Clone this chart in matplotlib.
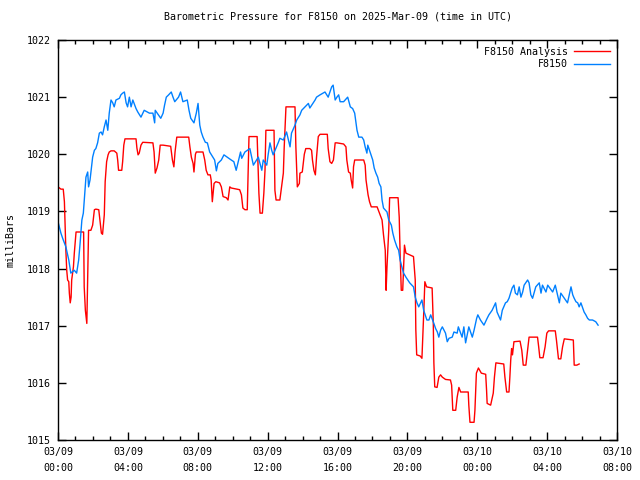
import numpy as np
import pandas as pd
import matplotlib
matplotlib.use("Agg")
import matplotlib.pyplot as plt
import matplotlib.dates as mdates

# data: minutes after 2025-03-09 00:00 UTC, pressure in mbar
obs_min = [0, 10, 16, 27, 37, 44, 56, 64, 71, 76, 82, 87, 92, 96, 102, 105, 110, 119, 125, 130,
           136, 142, 148, 153, 159, 165, 171, 176, 182, 188, 193, 199, 211, 216, 222, 228, 234, 239,
           245, 251, 257, 268, 274, 285, 296, 314, 326, 332, 334, 353, 361, 366, 372, 380, 389, 395,
           401, 414, 421, 429, 444, 450, 456, 467, 475, 481, 487, 492, 498, 506, 513, 521, 532, 538,
           544, 549, 561, 570, 595, 604, 612, 627, 631, 642, 659, 671, 688, 700, 705, 717, 722, 728,
           734, 739, 757, 762, 774, 785, 797, 802, 814, 820, 831, 837, 854, 860, 865, 883, 888, 900,
           917, 928, 940, 945, 952, 958, 964, 969, 981, 995, 1004, 1012, 1019, 1023, 1027, 1033,
           1044, 1050, 1055, 1061, 1064, 1070, 1081, 1086, 1092, 1098, 1103, 1109, 1113, 1118, 1130,
           1136, 1145, 1150, 1156, 1164, 1170, 1175, 1181, 1187, 1195, 1208, 1221, 1227, 1233, 1239,
           1250, 1256, 1267, 1274, 1280, 1291, 1297, 1303, 1308, 1314, 1320, 1331, 1337, 1343, 1354,
           1360, 1371, 1375, 1388, 1394, 1400, 1411, 1423, 1429, 1438, 1442, 1451, 1463, 1474, 1480,
           1491, 1503, 1508, 1520, 1526, 1537, 1543, 1549, 1560, 1566, 1571, 1578, 1584, 1590, 1596,
           1601, 1613, 1618, 1624, 1630, 1641, 1653, 1659, 1664, 1676, 1682, 1699, 1708, 1722, 1727,
           1739, 1750, 1762, 1768, 1773, 1779, 1785, 1790, 1796, 1802, 1807, 1813, 1819, 1825, 1836,
           1847, 1855]
obs_mb = [1018.82, 1018.62, 1018.53, 1018.38, 1018.15, 1017.92, 1017.97, 1017.92, 1018.15, 1018.45,
          1018.85, 1018.97, 1019.32, 1019.60, 1019.69, 1019.43, 1019.55, 1019.95, 1020.07, 1020.10,
          1020.20, 1020.37, 1020.39, 1020.34, 1020.48, 1020.60, 1020.42, 1020.72, 1020.95, 1020.90,
          1020.83, 1020.95, 1020.98, 1021.04, 1021.07, 1021.09, 1020.90, 1020.83, 1021.00, 1020.83,
          1020.95, 1020.80, 1020.74, 1020.65, 1020.77, 1020.72, 1020.72, 1020.55, 1020.77, 1020.63,
          1020.72, 1020.86, 1021.00, 1021.04, 1021.09, 1021.00, 1020.92, 1021.00, 1021.09, 1020.92,
          1020.95, 1020.77, 1020.63, 1020.55, 1020.72, 1020.89, 1020.51, 1020.39, 1020.30, 1020.21,
          1020.20, 1020.04, 1019.95, 1019.90, 1019.71, 1019.84, 1019.90, 1019.99, 1019.90, 1019.87,
          1019.72, 1020.04, 1019.93, 1020.04, 1020.10, 1019.81, 1019.95, 1019.72, 1019.90, 1019.81,
          1020.00, 1020.20, 1020.07, 1019.99, 1020.21, 1020.28, 1020.25, 1020.39, 1020.13, 1020.37,
          1020.51, 1020.60, 1020.69, 1020.77, 1020.86, 1020.89, 1020.81, 1020.95, 1021.00, 1021.04,
          1021.09, 1021.00, 1021.18, 1021.21, 1020.95, 1021.00, 1021.04, 1020.92, 1020.92, 1021.00,
          1020.83, 1020.80, 1020.72, 1020.57, 1020.42, 1020.30, 1020.30, 1020.25, 1020.13, 1020.02,
          1020.16, 1020.07, 1019.90, 1019.76, 1019.67, 1019.60, 1019.49, 1019.43, 1019.20, 1019.06,
          1018.99, 1018.85, 1018.76, 1018.62, 1018.50, 1018.38, 1018.32, 1018.15, 1018.03, 1017.92,
          1017.85, 1017.75, 1017.68, 1017.50, 1017.40, 1017.33, 1017.45, 1017.27, 1017.10, 1017.10,
          1017.19, 1017.04, 1016.95, 1016.89, 1016.80, 1016.92, 1016.98, 1016.87, 1016.72, 1016.78,
          1016.80, 1016.89, 1016.87, 1016.98, 1016.80, 1016.98, 1016.70, 1016.98, 1016.80, 1016.92,
          1017.13, 1017.19, 1017.10, 1017.01, 1017.13, 1017.19, 1017.27, 1017.40, 1017.24, 1017.10,
          1017.27, 1017.40, 1017.42, 1017.48, 1017.66, 1017.71, 1017.57, 1017.54, 1017.68, 1017.50,
          1017.59, 1017.71, 1017.80, 1017.75, 1017.54, 1017.48, 1017.68, 1017.75, 1017.57, 1017.71,
          1017.59, 1017.71, 1017.59, 1017.71, 1017.40, 1017.57, 1017.48, 1017.40, 1017.68, 1017.54,
          1017.48, 1017.42, 1017.40, 1017.33, 1017.40, 1017.31, 1017.24, 1017.19, 1017.13, 1017.10,
          1017.10, 1017.07, 1017.01]

ana_min = [0, 10, 18, 22, 27, 30, 33, 37, 39, 42, 45, 47, 53, 56, 62, 88, 90, 94, 99, 102, 105,
           113, 119, 125, 130, 140, 144, 149, 153, 159, 162, 167, 172, 176, 182, 193, 202, 205, 208,
           219, 222, 226, 230, 268, 271, 275, 279, 285, 291, 326, 330, 334, 340, 346, 351, 361, 387,
           393, 398, 402, 408, 449, 453, 458, 464, 467, 472, 475, 498, 504, 509, 515, 523, 526, 530,
           536, 542, 555, 561, 567, 578, 584, 590, 595, 624, 630, 635, 642, 650, 656, 684, 690, 694,
           702, 707, 711, 714, 742, 745, 749, 762, 768, 774, 777, 781, 783, 814, 817, 822, 829, 831,
           839, 846, 851, 865, 871, 874, 879, 884, 888, 894, 900, 925, 928, 934, 940, 946, 952, 958,
           981, 989, 992, 998, 1004, 1007, 1012, 1015, 1019, 1050, 1055, 1058, 1065, 1070, 1076,
           1096, 1113, 1118, 1124, 1127, 1130, 1136, 1139, 1168, 1172, 1175, 1179, 1184, 1187, 1190,
           1195, 1221, 1227, 1229, 1232, 1244, 1250, 1253, 1257, 1260, 1266, 1285, 1289, 1291, 1294,
           1302, 1308, 1314, 1320, 1331, 1348, 1352, 1356, 1366, 1371, 1377, 1383, 1409, 1411, 1415,
           1429, 1432, 1437, 1444, 1454, 1469, 1472, 1474, 1486, 1495, 1499, 1504, 1531, 1535, 1541,
           1549, 1552, 1555, 1558, 1561, 1566, 1587, 1593, 1598, 1607, 1613, 1618, 1647, 1651, 1655,
           1666, 1673, 1679, 1685, 1708, 1712, 1716, 1719, 1727, 1733, 1739, 1770, 1773, 1782, 1790]
ana_mb = [1019.43, 1019.39, 1019.39, 1019.17, 1018.32, 1017.97, 1017.80, 1017.77, 1017.57, 1017.40,
          1017.50, 1017.80, 1018.03, 1018.27, 1018.64, 1018.64, 1017.68, 1017.27, 1017.04, 1017.85,
          1018.67, 1018.67, 1018.76, 1019.03, 1019.04, 1019.03, 1018.85, 1018.62, 1018.60, 1018.94,
          1019.52, 1019.87, 1019.99, 1020.04, 1020.06, 1020.06, 1020.02, 1019.90, 1019.72, 1019.72,
          1019.87, 1020.16, 1020.27, 1020.27, 1020.11, 1019.99, 1020.02, 1020.16, 1020.21, 1020.20,
          1020.04, 1019.67, 1019.76, 1019.90, 1020.16, 1020.16, 1020.14, 1019.90, 1019.78, 1020.04,
          1020.30, 1020.30, 1020.13, 1019.95, 1019.84, 1019.69, 1020.00, 1020.04, 1020.04, 1019.90,
          1019.72, 1019.64, 1019.64, 1019.55, 1019.17, 1019.49, 1019.52, 1019.50, 1019.43, 1019.26,
          1019.24, 1019.20, 1019.43, 1019.41, 1019.38, 1019.29, 1019.06, 1019.03, 1019.03, 1020.31,
          1020.31, 1019.32, 1018.97, 1018.97, 1019.32, 1019.72, 1020.42, 1020.42, 1019.37, 1019.20,
          1019.20, 1019.43, 1019.67, 1020.13, 1020.57, 1020.83, 1020.83, 1020.13, 1019.43, 1019.49,
          1019.67, 1019.69, 1020.00, 1020.10, 1020.10, 1020.07, 1019.90, 1019.72, 1019.64, 1019.95,
          1020.31, 1020.35, 1020.35, 1020.10, 1019.87, 1019.84, 1019.90, 1020.20, 1020.20, 1020.18,
          1020.13, 1019.90, 1019.69, 1019.67, 1019.55, 1019.41, 1019.78, 1019.90, 1019.90, 1019.81,
          1019.55, 1019.29, 1019.17, 1019.08, 1019.08, 1018.85, 1018.59, 1018.32, 1017.62, 1018.03,
          1018.67, 1019.24, 1019.24, 1018.90, 1018.27, 1017.62, 1017.62, 1018.03, 1018.41, 1018.27,
          1018.21, 1017.80, 1016.93, 1016.49, 1016.47, 1016.43, 1016.80, 1017.33, 1017.77, 1017.68,
          1017.66, 1017.04, 1016.35, 1015.93, 1015.92, 1016.10, 1016.14, 1016.10, 1016.06, 1016.05,
          1015.96, 1015.52, 1015.52, 1015.75, 1015.92, 1015.84, 1015.84, 1015.61, 1015.31, 1015.31,
          1015.52, 1016.17, 1016.26, 1016.17, 1016.15, 1015.87, 1015.64, 1015.61, 1015.82, 1016.10,
          1016.35, 1016.33, 1016.10, 1015.84, 1015.84, 1016.10, 1016.40, 1016.60, 1016.49, 1016.72,
          1016.73, 1016.57, 1016.31, 1016.31, 1016.57, 1016.80, 1016.80, 1016.63, 1016.44, 1016.44,
          1016.63, 1016.87, 1016.91, 1016.91, 1016.75, 1016.57, 1016.42, 1016.42, 1016.63, 1016.77,
          1016.75, 1016.31, 1016.31, 1016.33]

start = pd.Timestamp("2025-03-09 00:00")
end = pd.Timestamp("2025-03-10 08:00")
obs_t = start + pd.to_timedelta(obs_min, unit="m")
ana_t = start + pd.to_timedelta(ana_min, unit="m")

plt.rcParams["font.family"] = ["DejaVu Sans Mono"]
plt.rcParams["font.size"] = 7.2

fig = plt.figure(figsize=(6.4, 4.8), dpi=100)
ax = fig.add_axes([58 / 640, 40 / 480, 559 / 640, 400 / 480])

ax.plot(ana_t, ana_mb, color="#ff0000", lw=1.0, label="F8150 Analysis")
ax.plot(obs_t, obs_mb, color="#0080ff", lw=1.0, label="F8150")

ax.set_xlim(start, end)
ax.set_ylim(1015, 1022)
ax.set_yticks(np.arange(1015, 1023, 1))
ax.yaxis.set_major_formatter(plt.FormatStrFormatter("%d"))
ax.xaxis.set_major_locator(mdates.HourLocator(byhour=range(0, 24, 4)))
ax.xaxis.set_minor_locator(mdates.HourLocator())
ax.xaxis.set_major_formatter(mdates.DateFormatter("%m/%d\n%H:%M"))

ax.tick_params(which="both", direction="in", top=True, right=True, colors="black")
ax.tick_params(which="major", length=6, width=1, pad=5)
ax.tick_params(which="minor", length=3, width=1)
for s in ax.spines.values():
    s.set_linewidth(1)

ax.set_ylabel("milliBars", labelpad=8)
ax.set_title("Barometric Pressure for F8150 on 2025-Mar-09 (time in UTC)",
             fontsize=7.2, pad=15)

ax.legend(loc="upper right", frameon=False, markerfirst=False, handlelength=3.6,
          handletextpad=0.6, labelspacing=0.25, borderaxespad=0.3)

fig.canvas.draw()
plt.setp(ax.get_xticklabels(), linespacing=1.8)

fig.savefig("out.png", dpi=100)
